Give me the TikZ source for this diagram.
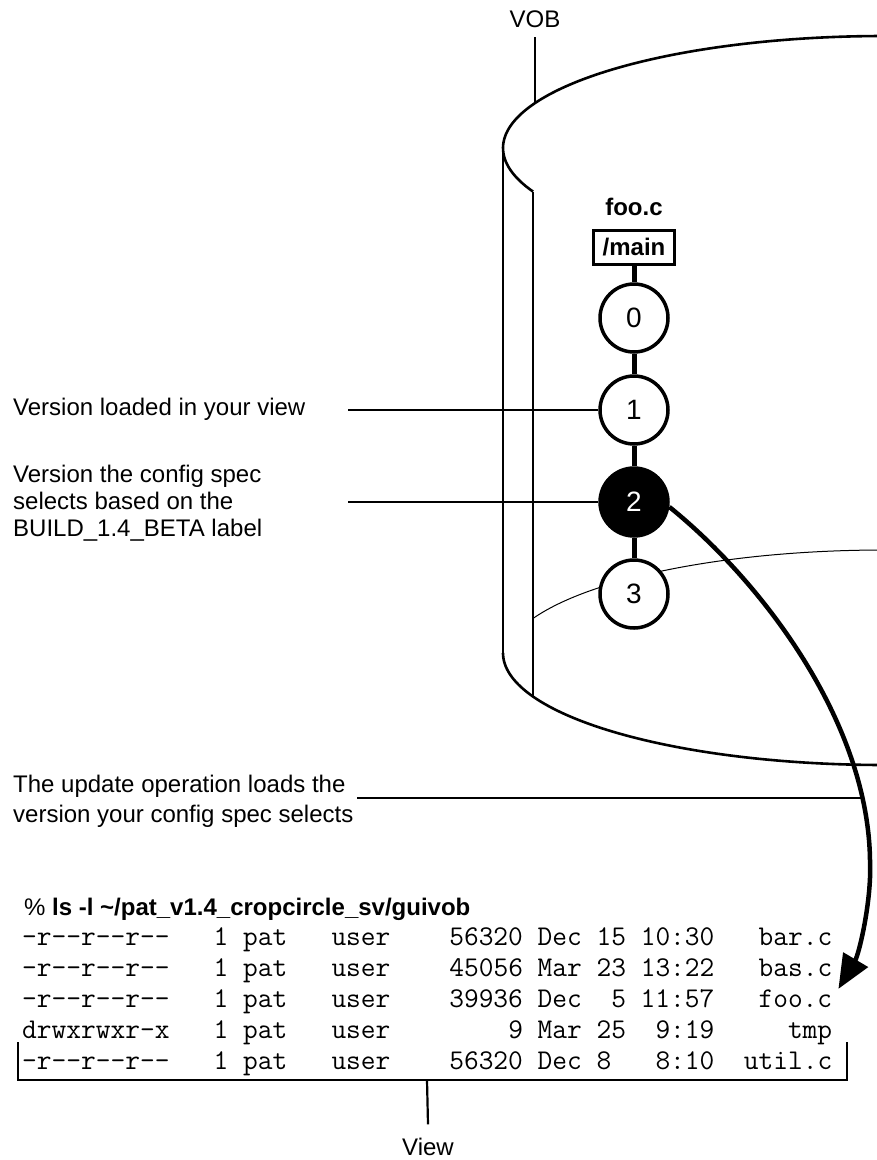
\documentclass[tikz,border=0pt]{standalone}
\usepackage{fontspec}
\setmainfont{Liberation Sans}
\usetikzlibrary{arrows.meta, positioning}
\tikzset{
  lbl/.style={font=\fontsize{24}{27}\selectfont, inner sep=0pt},
  vers/.style={circle, draw, line width=3.5pt, minimum size=68pt, inner sep=0pt,
    fill=white, font=\fontsize{28}{30}\selectfont},
  selvers/.style={vers, fill=black, text=white},
  branch/.style={rectangle, draw, line width=3pt, minimum width=81pt,
    minimum height=34pt, inner sep=0pt, font=\fontsize{24}{27}\selectfont\bfseries},
  stem/.style={line width=5pt},
  wall/.style={line width=2.6pt},
  lead/.style={line width=2.2pt},
  lsrow/.style={anchor=base west, inner sep=0pt,
    font=\fontsize{28.6}{31}\selectfont\ttfamily},
  fetch/.style={-{Triangle[length=34pt,width=28pt]}, line width=4.5pt},
}

\begin{document}
\begin{tikzpicture}[x=1pt, y=-1pt, node distance=20.5pt]
  \useasboundingbox (0,0) rectangle (877,1160);
  \clip (0,0) rectangle (877,1160);

  % VOB cylinder
  \draw[wall] plot[domain=88:202.9, samples=80, smooth, variable=\a]
    ({884+381*cos(\a)}, {148-112*sin(\a)});
  \draw[wall] (503,148) -- (503,653);
  \draw[wall] (533,191.6) -- (533,696.6);
  \draw[wall] plot[domain=180:272, samples=80, smooth, variable=\a]
    ({884+381*cos(\a)}, {653-112*sin(\a)});
  \draw[line width=1pt] plot[domain=88:157.1, samples=60, smooth, variable=\a]
    ({884+381*cos(\a)}, {662-112*sin(\a)});

  \node[lbl, anchor=base] (vob) at (535,27) {VOB};
  \coordinate (vobfoot) at (535,103);
  \draw[wall] ([yshift=-10pt]vob.south) -- (vobfoot);

  % version tree of foo.c
  \node[branch] (mainbr) at (634,247) {/main};
  \node[lbl, font=\fontsize{24}{27}\selectfont\bfseries, above=13pt of mainbr]
    (fooc) {foo.c};
  \node[vers] (v0) at (634,318) {0};
  \node[vers, below=of v0] (v1) {1};
  \node[selvers, below=of v1] (v2) {2};
  \node[vers, below=of v2] (v3) {3};
  \draw[stem] (mainbr) -- (v0);
  \draw[stem] (v0) -- (v1);
  \draw[stem] (v1) -- (v2);
  \draw[stem] (v2) -- (v3);

  % callouts
  \node[lbl, anchor=base west] (loaded) at (13,415) {Version loaded in your view};
  \node[lbl, anchor=north west, align=left] (selects) at (13,464.5)
    {Version the config spec\\selects based on the\\BUILD\_1.4\_BETA label};
  \node[lbl, anchor=north west, align=left, font=\fontsize{24}{30}\selectfont]
    (update) at (13,774.5)
    {The update operation loads the\\version your config spec selects};
  \coordinate (lead1) at (348,410);
  \coordinate (lead2) at (348,502);
  \draw[lead] (lead1) -- (v1);
  \draw[lead] (lead2) -- (v2);

  % listing of the view
  \node[lbl, anchor=base west] (cmd) at (24,915)
    {\% \textbf{ls -l \textasciitilde/pat\_v1.4\_cropcircle\_sv/guivob}};
  \foreach \entry [count=\i] in {
      -r--r--r--~~~1~pat~~~user~~~~56320~Dec~15~10:30~~~bar.c,
      -r--r--r--~~~1~pat~~~user~~~~45056~Mar~23~13:22~~~bas.c,
      -r--r--r--~~~1~pat~~~user~~~~39936~Dec~~5~11:57~~~foo.c,
      drwxrwxr-x~~~1~pat~~~user~~~~~~~~9~Mar~25~~9:19~~~~~tmp,
      -r--r--r--~~~1~pat~~~user~~~~56320~Dec~8~~~8:10~~util.c}
    \node[lsrow] (row\i) at (22,{914+31*\i}) {\entry};

  \coordinate (brl) at (18,1042);
  \coordinate (brbl) at (18,1080);
  \coordinate (brbr) at (847,1080);
  \coordinate (brr) at (847,1042);
  \draw[lead] (brl) -- (brbl) -- (brbr) -- (brr);
  \coordinate (brmid) at (427,1080);
  \node[lbl, anchor=base] (view) at (428,1155) {View};
  \draw[lead] (brmid) -- ([yshift=13pt]view.north);

  \coordinate (updstart) at (357,798);
  \coordinate (updend) at (863,798);
  \draw[wall] (updstart) -- (updend);

  \draw[fetch] (v2.-8) .. controls (760,580) and (868,720) .. (870,860)
    .. controls (872,900) and (859,954) .. ([xshift=6pt]row3.north east);
\end{tikzpicture}
\end{document}
